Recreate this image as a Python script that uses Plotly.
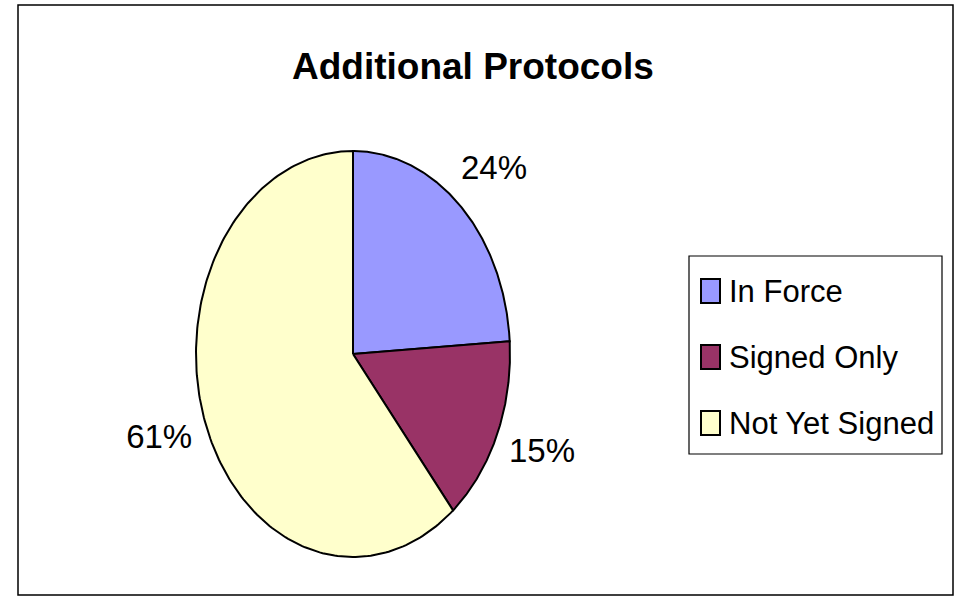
import numpy as np
import plotly.graph_objects as go

# ---- data ----
categories = ["In Force", "Signed Only", "Not Yet Signed"]
values = [24, 15, 61]
colors = ["#9999FF", "#993366", "#FFFFCC"]
title_text = "Additional Protocols"

# ---- layout constants (pixel space) ----
W, H = 959, 597
CX, CY = 353, 354       # ellipse centre
RX, RY = 157, 203       # ellipse radii
LX, LY = 206, 252       # label radii
FONT = "Liberation Sans Narrow, Arial Narrow, Liberation Sans, Arial, sans-serif"

fig = go.Figure()

total = float(sum(values))
start = 0.0
for cat, val, col in zip(categories, values, colors):
    frac = val / total
    t = np.linspace(start, start + frac, 200) * 2 * np.pi
    xs = np.concatenate([[CX], CX + RX * np.sin(t), [CX]])
    ys = np.concatenate([[CY], CY - RY * np.cos(t), [CY]])
    fig.add_trace(go.Scatter(
        x=xs, y=ys, mode="lines", fill="toself", fillcolor=col,
        line=dict(color="black", width=2), name=cat,
        hoverinfo="skip", showlegend=False))
    mid = (start + frac / 2) * 2 * np.pi
    fig.add_trace(go.Scatter(
        x=[CX + LX * np.sin(mid)], y=[CY - LY * np.cos(mid)],
        mode="text", text=[f"{val / total * 100:.0f}%"],
        textfont=dict(family=FONT, size=33, color="black"),
        hoverinfo="skip", showlegend=False))
    start += frac

# ---- manual legend ----
LEG_X0, LEG_Y0, LEG_X1, LEG_Y1 = 689, 256, 942, 454
ROW0, ROW_STEP = 291, 66
shapes = [
    dict(type="rect", xref="x", yref="y", x0=18, y0=5, x1=953, y1=595,
         line=dict(color="black", width=1.5), fillcolor="rgba(0,0,0,0)", layer="below"),
    dict(type="rect", xref="x", yref="y", x0=LEG_X0, y0=LEG_Y0, x1=LEG_X1, y1=LEG_Y1,
         line=dict(color="black", width=1.2), fillcolor="white", layer="below"),
]
annotations = []
for i, (cat, col) in enumerate(zip(categories, colors)):
    yc = ROW0 + i * ROW_STEP
    shapes.append(dict(type="rect", xref="x", yref="y", x0=701, x1=720,
                       y0=yc - 12, y1=yc + 12, fillcolor=col,
                       line=dict(color="black", width=2)))
    annotations.append(dict(x=727, y=yc, xref="x", yref="y", text=cat,
                            showarrow=False, xanchor="left", yanchor="middle",
                            font=dict(family=FONT, size=31, color="black")))

annotations.append(dict(x=473, y=66, xref="x", yref="y", text=f"<b>{title_text}</b>",
                        showarrow=False, xanchor="center", yanchor="middle",
                        font=dict(family=FONT, size=37, color="black")))

fig.update_layout(
    width=W, height=H, autosize=False,
    margin=dict(l=0, r=0, t=0, b=0),
    paper_bgcolor="white", plot_bgcolor="white",
    xaxis=dict(range=[0, W], visible=False, fixedrange=True),
    yaxis=dict(range=[H, 0], visible=False, fixedrange=True),
    shapes=shapes, annotations=annotations, showlegend=False,
)

fig.write_html("out.html", config={"displayModeBar": False},
               post_script="document.body.style.margin='0';document.body.style.overflow='hidden';")
